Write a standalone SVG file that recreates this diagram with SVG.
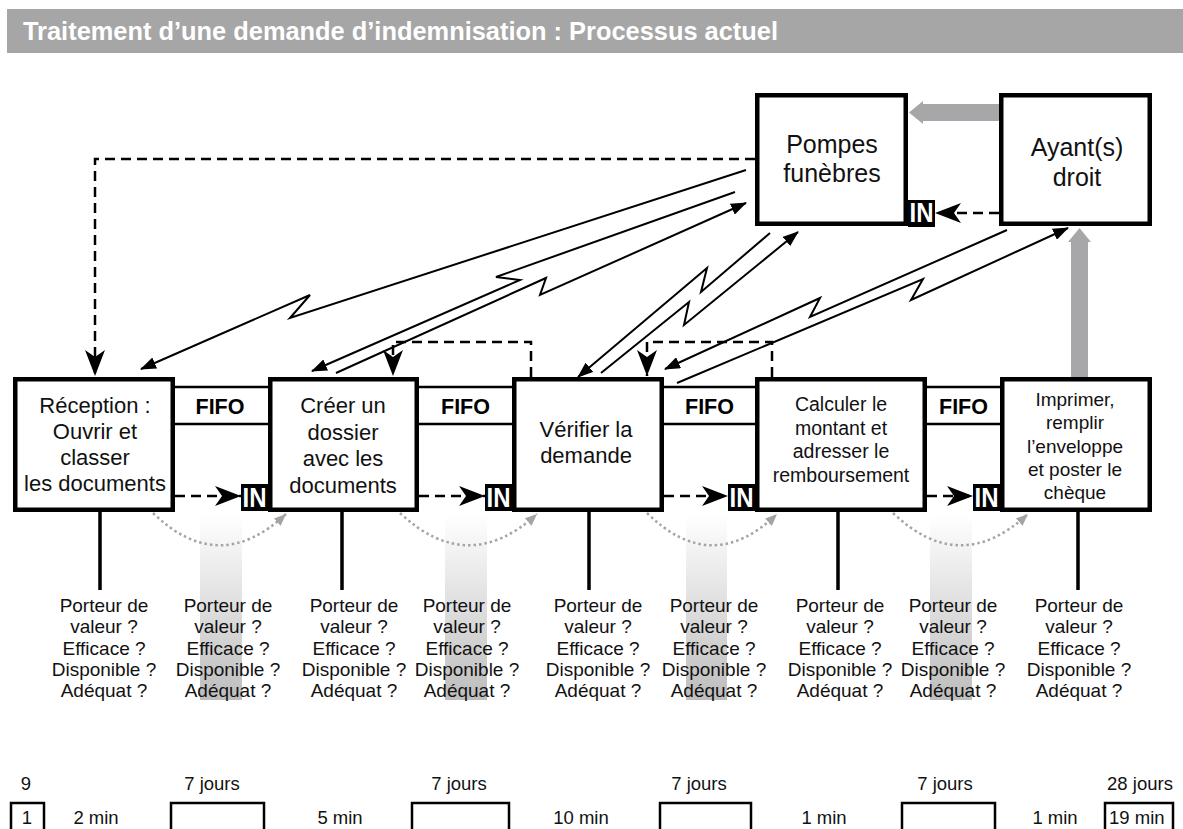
<svg xmlns="http://www.w3.org/2000/svg" width="1183" height="829" viewBox="0 0 1183 829">
<defs>
<style>
.box{fill:#fff;stroke:#000;stroke-width:4.5}
.tx{font-family:"Liberation Sans",Arial,sans-serif;fill:#111;text-anchor:middle}
.f25{font-size:25px}.f22{font-size:22px}.f195{font-size:19.5px}.f19{font-size:19px}.f185{font-size:18.5px}
.fifo{font-family:"Liberation Sans",Arial,sans-serif;font-weight:bold;font-size:21.5px;text-anchor:middle;fill:#000}
.inb{fill:#000}
.int{font-family:"Liberation Sans",Arial,sans-serif;font-weight:bold;font-size:27px;fill:#fff;text-anchor:middle}
.fl{stroke:#000;stroke-width:2.5;fill:none}
.dash{stroke:#000;stroke-width:2.5;fill:none;stroke-dasharray:10 6}
.bolt{stroke:#000;stroke-width:2;fill:none;stroke-linejoin:miter}
.dot{stroke:#a4a4a4;stroke-width:2.5;fill:none;stroke-dasharray:2.5 3}
.vl{stroke:#000;stroke-width:3.5}
.tb{fill:none;stroke:#000;stroke-width:2.5}
.grey{fill:#a7a7a9}
</style>
<marker id="barb" markerUnits="userSpaceOnUse" markerWidth="26" markerHeight="20" viewBox="0 0 26 20" refX="26" refY="10" orient="auto">
<path d="M0,0 L26,10 L0,20 L7,10 Z" fill="#000"/>
</marker>
<marker id="tri" markerUnits="userSpaceOnUse" markerWidth="16" markerHeight="12" viewBox="0 0 16 12" refX="15" refY="6" orient="auto">
<path d="M0,0 L16,6 L0,12 Z" fill="#000"/>
</marker>
<marker id="gtri" markerUnits="userSpaceOnUse" markerWidth="12" markerHeight="10" viewBox="0 0 12 10" refX="12" refY="5" orient="auto">
<path d="M0,0 L12,5 L0,10 Z" fill="#a4a4a4"/>
</marker>
<linearGradient id="band" x1="0" y1="0" x2="0" y2="1">
<stop offset="0" stop-color="#ffffff"/>
<stop offset="1" stop-color="#bdbdbd"/>
</linearGradient>
</defs>

<g id="header">
<rect x="7" y="9" width="1176" height="44" fill="#a6a6a6"/>
<text x="23" y="40" font-family="Liberation Sans, Arial, sans-serif" font-weight="bold" font-size="25" fill="#fff" textLength="755" lengthAdjust="spacingAndGlyphs">Traitement d’une demande d’indemnisation : Processus actuel</text>
</g>

<g id="bands">
<rect x="200" y="515" width="42" height="185" fill="url(#band)"/>
<rect x="445" y="515" width="42" height="185" fill="url(#band)"/>
<rect x="686" y="515" width="41" height="185" fill="url(#band)"/>
<rect x="930" y="515" width="42" height="185" fill="url(#band)"/>
</g>

<g id="connectors">
<!-- FIFO lanes -->
<path class="fl" d="M175,387 H268 M175,424 H268 M419,387 H512 M419,424 H512 M664,387 H755 M664,424 H755 M927,387 H1000 M927,424 H1000"/>
<!-- dashed push to IN -->
<path class="dash" d="M175,496 H241" marker-end="url(#barb)"/>
<path class="dash" d="M419,496 H485" marker-end="url(#barb)"/>
<path class="dash" d="M664,496 H728" marker-end="url(#barb)"/>
<path class="dash" d="M927,496 H973" marker-end="url(#barb)"/>
<path class="dash" d="M999,213 H935" marker-end="url(#barb)"/>
<!-- dashed feedback -->
<path class="dash" d="M755,159 H95 V376" marker-end="url(#barb)"/>
<path class="dash" d="M531,377 V342 H393 V376" marker-end="url(#barb)"/>
<path class="dash" d="M772,377 V342 H647 V376" marker-end="url(#barb)"/>
<!-- electronic flows -->
<path class="bolt" d="M746,170 L290,318 L310,295 L141,369" marker-end="url(#tri)"/>
<path class="bolt" d="M735,192 L496,277 L520,280 L312,371" marker-end="url(#tri)"/>
<path class="bolt" d="M336,373 L546,278 L540,295 L746,203" marker-end="url(#tri)"/>
<path class="bolt" d="M770,233 L701,292 L707,268 L578,377" marker-end="url(#tri)"/>
<path class="bolt" d="M601,373 L689,302 L684,325 L798,232" marker-end="url(#tri)"/>
<path class="bolt" d="M1007,230 L810,317 L820,298 L665,369" marker-end="url(#tri)"/>
<path class="bolt" d="M677,383 L923,279 L911,300 L1068,228" marker-end="url(#tri)"/>
<!-- grey physical flows -->
<polygon class="grey" points="999,104 923,104 923,101 909,112.5 923,124 923,121 999,121"/>
<polygon class="grey" points="1071,377 1071,242 1068,242 1079.5,228 1091,242 1088,242 1088,377"/>
<!-- dotted arcs -->
<path class="dot" d="M153,513 Q219,577 286,514" marker-end="url(#gtri)"/>
<path class="dot" d="M400,513 Q468,577 537,514" marker-end="url(#gtri)"/>
<path class="dot" d="M647,513 Q712,577 777,514" marker-end="url(#gtri)"/>
<path class="dot" d="M893,513 Q960,577 1028,514" marker-end="url(#gtri)"/>
<!-- stems -->
<path class="vl" d="M100,512 V590 M342,512 V590 M589,512 V590 M838,512 V590 M1078,512 V590"/>
</g>

<g id="fifo-labels">
<text class="fifo" x="220" y="414">FIFO</text>
<text class="fifo" x="465.5" y="414">FIFO</text>
<text class="fifo" x="709.5" y="414">FIFO</text>
<text class="fifo" x="963.5" y="414">FIFO</text>
</g>

<g id="pompes">
<rect class="box" x="757.25" y="95.25" width="148.5" height="128.5"/>
<text class="tx f25" x="832" y="153">Pompes</text>
<text class="tx f25" x="832" y="182">funèbres</text>
</g>
<g id="ayants">
<rect class="box" x="1001.25" y="95.25" width="148.5" height="128.5"/>
<text class="tx f25" x="1077" y="156">Ayant(s)</text>
<text class="tx f25" x="1077" y="186">droit</text>
</g>
<g id="in-pompes">
<rect class="inb" x="908" y="200" width="27" height="27"/>
<text class="int" x="921.5" y="222" textLength="24" lengthAdjust="spacingAndGlyphs">IN</text>
</g>

<g id="reception">
<rect class="box" x="15.25" y="379.25" width="157.5" height="130.5"/>
<text class="tx f22" x="95" y="413">Réception :</text>
<text class="tx f22" x="95" y="439">Ouvrir et</text>
<text class="tx f22" x="95" y="465">classer</text>
<text class="tx f22" x="95" y="491">les documents</text>
</g>
<g id="creer">
<rect class="box" x="270.25" y="379.25" width="146.5" height="130.5"/>
<text class="tx f22" x="343" y="413">Créer un</text>
<text class="tx f22" x="343" y="440">dossier</text>
<text class="tx f22" x="343" y="466">avec les</text>
<text class="tx f22" x="343" y="493">documents</text>
</g>
<g id="verifier">
<rect class="box" x="514.25" y="379.25" width="147.5" height="130.5"/>
<text class="tx f22" x="586" y="437">Vérifier la</text>
<text class="tx f22" x="586" y="463">demande</text>
</g>
<g id="calculer">
<rect class="box" x="757.25" y="379.25" width="167.5" height="130.5"/>
<text class="tx f195" x="841" y="411">Calculer le</text>
<text class="tx f195" x="841" y="434.5">montant et</text>
<text class="tx f195" x="841" y="458">adresser le</text>
<text class="tx f195" x="841" y="481.5">remboursement</text>
</g>
<g id="imprimer">
<rect class="box" x="1002.25" y="379.25" width="147.5" height="130.5"/>
<text class="tx f19" x="1075" y="406">Imprimer,</text>
<text class="tx f19" x="1075" y="429">remplir</text>
<text class="tx f19" x="1075" y="453">l’enveloppe</text>
<text class="tx f19" x="1075" y="476">et poster le</text>
<text class="tx f19" x="1075" y="499">chèque</text>
</g>

<g id="in-boxes">
<rect class="inb" x="241" y="484" width="27" height="27"/>
<text class="int" x="254.5" y="507" textLength="24" lengthAdjust="spacingAndGlyphs">IN</text>
<rect class="inb" x="485" y="484" width="27" height="27"/>
<text class="int" x="498.5" y="507" textLength="24" lengthAdjust="spacingAndGlyphs">IN</text>
<rect class="inb" x="728" y="484" width="27" height="27"/>
<text class="int" x="741.5" y="507" textLength="24" lengthAdjust="spacingAndGlyphs">IN</text>
<rect class="inb" x="973" y="484" width="27" height="27"/>
<text class="int" x="986.5" y="507" textLength="24" lengthAdjust="spacingAndGlyphs">IN</text>
</g>

<g id="questions" class="tx f19">
<text x="104" y="612">Porteur de</text><text x="104" y="633.3">valeur ?</text><text x="104" y="654.6">Efficace ?</text><text x="104" y="676">Disponible ?</text><text x="104" y="697">Adéquat ?</text>
<text x="228" y="612">Porteur de</text><text x="228" y="633.3">valeur ?</text><text x="228" y="654.6">Efficace ?</text><text x="228" y="676">Disponible ?</text><text x="228" y="697">Adéquat ?</text>
<text x="354" y="612">Porteur de</text><text x="354" y="633.3">valeur ?</text><text x="354" y="654.6">Efficace ?</text><text x="354" y="676">Disponible ?</text><text x="354" y="697">Adéquat ?</text>
<text x="467" y="612">Porteur de</text><text x="467" y="633.3">valeur ?</text><text x="467" y="654.6">Efficace ?</text><text x="467" y="676">Disponible ?</text><text x="467" y="697">Adéquat ?</text>
<text x="598" y="612">Porteur de</text><text x="598" y="633.3">valeur ?</text><text x="598" y="654.6">Efficace ?</text><text x="598" y="676">Disponible ?</text><text x="598" y="697">Adéquat ?</text>
<text x="714" y="612">Porteur de</text><text x="714" y="633.3">valeur ?</text><text x="714" y="654.6">Efficace ?</text><text x="714" y="676">Disponible ?</text><text x="714" y="697">Adéquat ?</text>
<text x="840" y="612">Porteur de</text><text x="840" y="633.3">valeur ?</text><text x="840" y="654.6">Efficace ?</text><text x="840" y="676">Disponible ?</text><text x="840" y="697">Adéquat ?</text>
<text x="953" y="612">Porteur de</text><text x="953" y="633.3">valeur ?</text><text x="953" y="654.6">Efficace ?</text><text x="953" y="676">Disponible ?</text><text x="953" y="697">Adéquat ?</text>
<text x="1079" y="612">Porteur de</text><text x="1079" y="633.3">valeur ?</text><text x="1079" y="654.6">Efficace ?</text><text x="1079" y="676">Disponible ?</text><text x="1079" y="697">Adéquat ?</text>
</g>

<g id="timeline" class="tx f185">
<text x="26" y="790">9</text>
<rect class="tb" x="11" y="803" width="33" height="40"/>
<text x="27" y="824">1</text>
<text x="96" y="824">2 min</text>
<text x="212" y="790">7 jours</text>
<rect class="tb" x="171" y="803" width="93" height="40"/>
<text x="340" y="824">5 min</text>
<text x="459" y="790">7 jours</text>
<rect class="tb" x="412" y="803" width="97" height="40"/>
<text x="581" y="824">10 min</text>
<text x="699" y="790">7 jours</text>
<rect class="tb" x="660" y="803" width="91" height="40"/>
<text x="824" y="824">1 min</text>
<text x="945" y="790">7 jours</text>
<rect class="tb" x="902" y="803" width="93" height="40"/>
<text x="1055" y="824">1 min</text>
<text x="1140" y="790">28 jours</text>
<rect class="tb" x="1105" y="803" width="68" height="40"/>
<text x="1109" y="824" style="text-anchor:start">19 min</text>
</g>
</svg>
